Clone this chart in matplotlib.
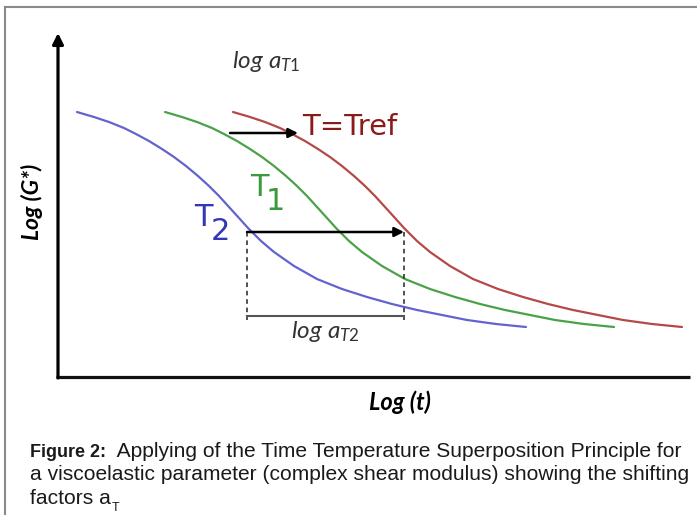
import matplotlib
matplotlib.use("Agg")
import matplotlib.pyplot as plt
from matplotlib.lines import Line2D

# Master curve (T = Tref), arbitrary log units
ref_logt = [17.5, 19.2, 20.7, 22.2, 23.4, 24.7, 26.0, 27.2, 28.4, 29.6, 30.7, 31.7, 32.7,
            33.7, 34.6, 35.9, 37.2, 39.2, 41.5, 44.0, 46.5, 49.0, 51.5, 54.0, 56.5, 59.4, 62.4]
ref_logG = [26.5, 26.0, 25.5, 24.9, 24.3, 23.6, 22.8, 22.0, 21.1, 20.1, 19.1, 18.1, 17.0,
            15.9, 14.9, 13.6, 12.5, 11.1, 9.8, 8.8, 8.0, 7.3, 6.7, 6.2, 5.7, 5.3, 5.0]

# Curves and their horizontal shift factors log aT
curve_names = ["T=Tref", "T1", "T2"]
log_aT = [0.0, 6.8, 15.6]
line_colors = ["#b54848", "#4aa248", "#6363cf"]

plt.rcParams["mathtext.fontset"] = "custom"
plt.rcParams["mathtext.it"] = "Lato:italic"
plt.rcParams["mathtext.rm"] = "Lato"

fig = plt.figure(figsize=(6.97, 5.15), dpi=100)
ax = fig.add_axes([0, 0, 1, 1])
ax.set_xlim(-5.8, 63.9)
ax.set_ylim(-13.8, 37.7)
ax.axis("off")

# frame of the figure panel
fig.add_artist(Line2D([0.007, 1.0], [0.986, 0.986], transform=fig.transFigure, color="#8a8a8a", lw=1.5))
fig.add_artist(Line2D([0.007, 0.007], [0.0, 0.986], transform=fig.transFigure, color="#8a8a8a", lw=1.5))

# axes drawn by hand
ax.annotate("", xy=(0, 34.4), xytext=(0, -0.1),
            arrowprops=dict(arrowstyle="-|>", lw=2.3, color="black", mutation_scale=16,
                            shrinkA=0, shrinkB=0))
ax.plot([-0.2, 63.2], [0, 0], color="#111111", lw=2.3, solid_capstyle="butt")

for name, shift, col in zip(curve_names, log_aT, line_colors):
    ax.plot([x - shift for x in ref_logt], ref_logG, color=col, lw=1.6,
            solid_capstyle="round", solid_joinstyle="round")

# shift arrows
ax.annotate("", xy=(24.0, 24.4), xytext=(17.2, 24.4),
            arrowprops=dict(arrowstyle="-|>", lw=1.8, color="black", mutation_scale=14,
                            shrinkA=0, shrinkB=0))
ax.annotate("", xy=(34.6, 14.5), xytext=(18.9, 14.5),
            arrowprops=dict(arrowstyle="-|>", lw=1.8, color="black", mutation_scale=14,
                            shrinkA=0, shrinkB=0))
for xv in [18.9, 34.6]:
    ax.plot([xv, xv], [14.5, 5.7], color="#222222", lw=1.1, ls=(0, (3, 2.5)))
ax.plot([18.9, 34.6], [6.1, 6.1], color="#555555", lw=1.5)

# labels
ax.text(20.8, 31.5, r"$log\ a_{\mathit{T1}}$", fontsize=17.5, color="#333333",
        ha="center", va="center")
ax.text(26.7, 4.6, r"$log\ a_{\mathit{T2}}$", fontsize=17.5, color="#333333",
        ha="center", va="center")
ax.text(24.4, 25.0, "T=Tref", fontsize=21, color="#8b1a1a", ha="left", va="center",
        family="DejaVu Sans")
ax.text(19.2, 18.9, "T", fontsize=22, color="#3c9a3c", ha="left", va="center",
        family="DejaVu Sans")
ax.text(20.8, 17.5, "1", fontsize=22, color="#3c9a3c", ha="left", va="center",
        family="DejaVu Sans")
ax.text(13.6, 16.0, "T", fontsize=22, color="#3535b8", ha="left", va="center",
        family="DejaVu Sans")
ax.text(15.3, 14.5, "2", fontsize=22, color="#3535b8", ha="left", va="center",
        family="DejaVu Sans")

ax.text(-2.6, 17.5, "Log (G*)", fontsize=16.5, rotation=90, ha="center", va="center",
        fontweight="bold", fontstyle="italic", family=["Lato", "DejaVu Sans"])
ax.text(34.2, -2.5, "Log (t)", fontsize=17, ha="center", va="center",
        fontweight="bold", fontstyle="italic", family=["Lato", "DejaVu Sans"])

# caption
cap_font = dict(family="Liberation Sans", fontsize=15.1, color="#1a1a1a")
t1 = fig.text(0.043, 0.122, "Figure 2:", fontweight="bold", va="center",
              family="Liberation Sans", fontsize=13, color="#1a1a1a")
ax.annotate("  Applying of the Time Temperature Superposition Principle for",
            xy=(1, 0), xycoords=t1, va="bottom", **cap_font)
fig.text(0.043, 0.078, "a viscoelastic parameter (complex shear modulus) showing the shifting",
         va="center", **cap_font)
t3 = fig.text(0.043, 0.033, "factors a", va="center", **cap_font)
ax.annotate("T", xy=(1, 0), xycoords=t3, xytext=(0.5, -5), textcoords="offset points",
            va="bottom", family="Liberation Sans", fontsize=9, color="#1a1a1a")

fig.savefig("out.png", dpi=100)
